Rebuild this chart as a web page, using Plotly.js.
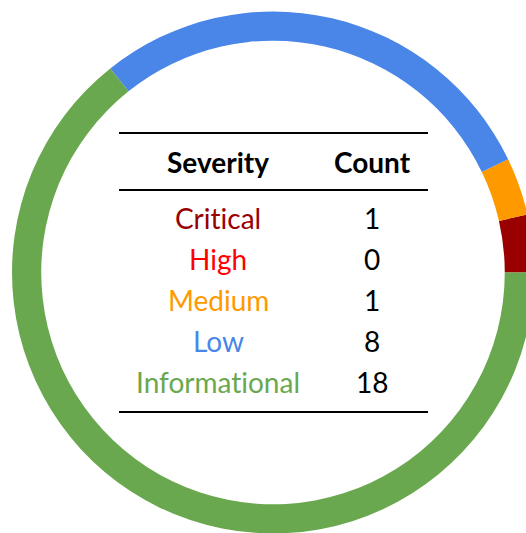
<!DOCTYPE html>
<html>
<head>
<meta charset="utf-8">
<script src="https://cdn.plot.ly/plotly-3.0.1.min.js"></script>
<style>
html, body { margin:0; padding:0; overflow:hidden; background:#fff; }
#chart { width:546px; height:540px; }
text { font-variant-ligatures: none; font-feature-settings: "liga" 0, "clig" 0; }
</style>
</head>
<body>
<div id="chart"></div>
<script>
const severities = ["Critical", "High", "Medium", "Low", "Informational"];
const counts = [1, 0, 1, 8, 18];
const colors = ["#990000", "#ff0000", "#ff9900", "#4a86e8", "#6aa84f"];
const headers = ["Severity", "Count"];

const W = 546, H = 540;
const px = x => x / W;
const py = y => 1 - y / H;
const FONT = "Lato, 'Source Sans Pro', 'Noto Sans', sans-serif";

const cx = 273, cy = 272.5, R = 261;
const total = counts.reduce((a, b) => a + b, 0);

const trace = {
  type: "pie",
  labels: severities,
  values: counts,
  marker: { colors: colors, line: { width: 0 } },
  hole: 0.888,
  sort: false,
  direction: "counterclockwise",
  rotation: 90 - 360 * counts[0] / total,
  textinfo: "none",
  hoverinfo: "none",
  showlegend: false,
  domain: { x: [px(cx - R), px(cx + R)], y: [py(cy + R), py(cy - R)] }
};

const colX = [218, 372];
const headerY = 162;
const rowY0 = 217.5, rowStep = 41.2;

const annotations = [];
headers.forEach((h, j) => {
  annotations.push({
    xref: "paper", yref: "paper", x: px(colX[j]), y: py(headerY),
    text: "<b>" + h + "</b>", showarrow: false, xanchor: "center", yanchor: "middle",
    font: { family: FONT, size: 28, color: "#000" }
  });
});
severities.forEach((s, i) => {
  annotations.push({
    xref: "paper", yref: "paper", x: px(colX[0]), y: py(rowY0 + i * rowStep),
    text: s, showarrow: false, xanchor: "center", yanchor: "middle",
    font: { family: FONT, size: 28, color: colors[i] }
  });
  annotations.push({
    xref: "paper", yref: "paper", x: px(colX[1]), y: py(rowY0 + i * rowStep),
    text: String(counts[i]), showarrow: false, xanchor: "center", yanchor: "middle",
    font: { family: FONT, size: 28, color: "#000" }
  });
});

const lineYs = [133, 190, 412];
const shapes = lineYs.map(y => ({
  type: "line", xref: "paper", yref: "paper",
  x0: px(119), x1: px(428), y0: py(y), y1: py(y),
  line: { color: "#000", width: 2 }
}));

const layout = {
  width: W, height: H,
  margin: { l: 0, r: 0, t: 0, b: 0 },
  paper_bgcolor: "#fff",
  plot_bgcolor: "#fff",
  annotations: annotations,
  shapes: shapes,
  showlegend: false
};

Plotly.newPlot("chart", [trace], layout, { displayModeBar: false, staticPlot: true });
</script>
</body>
</html>
